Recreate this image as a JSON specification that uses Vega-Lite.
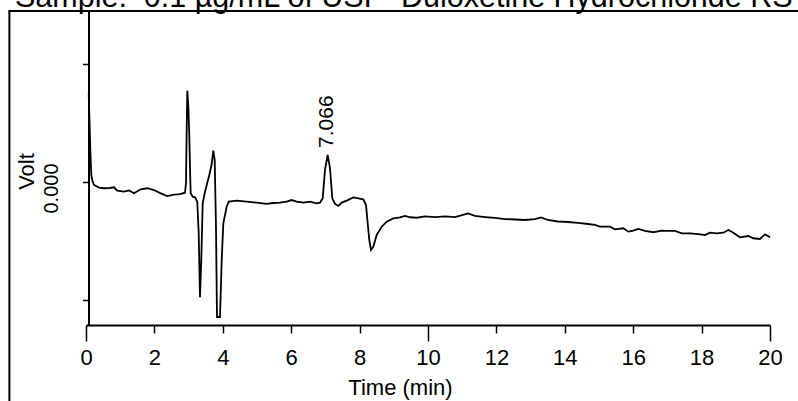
{
  "$schema": "https://vega.github.io/schema/vega-lite/v6.json",
  "width": 684,
  "height": 314,
  "autosize": {"type": "none"},
  "padding": {"left": 86, "top": 11, "right": 28, "bottom": 76},
  "background": "white",
  "config": {"view": {"stroke": null}, "font": "Liberation Sans"},
  "title": {
    "text": "Sample:\u00a0 0.1 µg/mL of USP\u00a0 Duloxetine Hydrochloride RS",
    "anchor": "start",
    "frame": "group",
    "font": "Liberation Sans",
    "fontSize": 30.5,
    "fontWeight": "normal",
    "color": "black",
    "baseline": "alphabetic",
    "offset": -27,
    "dx": -71
  },
  "layer": [
    {
      "data": {"values": [
        {"t": 0.079, "v": 0.0754}, {"t": 0.102, "v": 0.0525}, {"t": 0.126, "v": 0.0271}, {"t": 0.155, "v": 0.0059},
        {"t": 0.19, "v": 0.0008}, {"t": 0.234, "v": -0.0025}, {"t": 0.38, "v": -0.0048}, {"t": 0.526, "v": -0.0053},
        {"t": 0.702, "v": -0.0051}, {"t": 0.819, "v": -0.0045}, {"t": 0.915, "v": -0.0074}, {"t": 1.111, "v": -0.0082},
        {"t": 1.257, "v": -0.0072}, {"t": 1.404, "v": -0.0096}, {"t": 1.599, "v": -0.0062}, {"t": 1.792, "v": -0.0053},
        {"t": 1.988, "v": -0.0068}, {"t": 2.184, "v": -0.0096}, {"t": 2.377, "v": -0.0119}, {"t": 2.573, "v": -0.0108},
        {"t": 2.749, "v": -0.0102}, {"t": 2.895, "v": -0.0091}, {"t": 2.924, "v": -0.0008}, {"t": 2.944, "v": 0.0441},
        {"t": 2.962, "v": 0.0774}, {"t": 2.991, "v": 0.0653}, {"t": 3.02, "v": 0.0398}, {"t": 3.05, "v": 0.0017},
        {"t": 3.061, "v": -0.0096}, {"t": 3.12, "v": -0.0125}, {"t": 3.187, "v": -0.013}, {"t": 3.254, "v": -0.0167},
        {"t": 3.295, "v": -0.0435}, {"t": 3.333, "v": -0.0977}, {"t": 3.371, "v": -0.0661}, {"t": 3.412, "v": -0.0181},
        {"t": 3.48, "v": -0.0082}, {"t": 3.605, "v": 0.0059}, {"t": 3.67, "v": 0.0144}, {"t": 3.722, "v": 0.0265},
        {"t": 3.763, "v": 0.0186}, {"t": 3.801, "v": -0.0379}, {"t": 3.83, "v": -0.1144}, {"t": 3.918, "v": -0.1144},
        {"t": 3.968, "v": -0.0661}, {"t": 4.015, "v": -0.035}, {"t": 4.114, "v": -0.0209}, {"t": 4.173, "v": -0.0167},
        {"t": 4.406, "v": -0.0158}, {"t": 4.699, "v": -0.0167}, {"t": 4.991, "v": -0.0175}, {"t": 5.284, "v": -0.0186},
        {"t": 5.468, "v": -0.0178}, {"t": 5.673, "v": -0.0175}, {"t": 5.868, "v": -0.0167}, {"t": 6.015, "v": -0.0153},
        {"t": 6.161, "v": -0.0167}, {"t": 6.354, "v": -0.0175}, {"t": 6.55, "v": -0.0167}, {"t": 6.746, "v": -0.0181},
        {"t": 6.842, "v": -0.0175}, {"t": 6.921, "v": -0.0138}, {"t": 6.988, "v": 0.0102}, {"t": 7.066, "v": 0.0229},
        {"t": 7.135, "v": 0.0116}, {"t": 7.202, "v": -0.0138}, {"t": 7.281, "v": -0.0186}, {"t": 7.377, "v": -0.0203},
        {"t": 7.477, "v": -0.0175}, {"t": 7.623, "v": -0.0158}, {"t": 7.816, "v": -0.013}, {"t": 7.962, "v": -0.0138},
        {"t": 8.108, "v": -0.0147}, {"t": 8.187, "v": -0.0195}, {"t": 8.237, "v": -0.035}, {"t": 8.284, "v": -0.0492},
        {"t": 8.333, "v": -0.0576}, {"t": 8.401, "v": -0.0548}, {"t": 8.5, "v": -0.0449}, {"t": 8.646, "v": -0.0379},
        {"t": 8.792, "v": -0.0336}, {"t": 8.985, "v": -0.0308}, {"t": 9.181, "v": -0.0299}, {"t": 9.327, "v": -0.0288},
        {"t": 9.474, "v": -0.0299}, {"t": 9.67, "v": -0.0303}, {"t": 9.912, "v": -0.0292}, {"t": 10.205, "v": -0.0297},
        {"t": 10.497, "v": -0.0292}, {"t": 10.789, "v": -0.0297}, {"t": 10.994, "v": -0.028}, {"t": 11.17, "v": -0.0267},
        {"t": 11.374, "v": -0.0288}, {"t": 11.667, "v": -0.0297}, {"t": 11.959, "v": -0.0305}, {"t": 12.251, "v": -0.0314},
        {"t": 12.544, "v": -0.0318}, {"t": 12.836, "v": -0.0322}, {"t": 13.129, "v": -0.0314}, {"t": 13.304, "v": -0.0301},
        {"t": 13.509, "v": -0.0322}, {"t": 13.801, "v": -0.0335}, {"t": 14.094, "v": -0.0339}, {"t": 14.386, "v": -0.0347},
        {"t": 14.678, "v": -0.0356}, {"t": 14.883, "v": -0.0364}, {"t": 15.029, "v": -0.0379}, {"t": 15.322, "v": -0.0379},
        {"t": 15.468, "v": -0.0401}, {"t": 15.711, "v": -0.0392}, {"t": 15.857, "v": -0.0421}, {"t": 16.003, "v": -0.0413},
        {"t": 16.149, "v": -0.0398}, {"t": 16.345, "v": -0.0415}, {"t": 16.588, "v": -0.0426}, {"t": 16.833, "v": -0.0413},
        {"t": 17.026, "v": -0.0415}, {"t": 17.222, "v": -0.0415}, {"t": 17.418, "v": -0.0435}, {"t": 17.661, "v": -0.0435},
        {"t": 17.904, "v": -0.0441}, {"t": 18.099, "v": -0.0449}, {"t": 18.246, "v": -0.043}, {"t": 18.442, "v": -0.0435},
        {"t": 18.635, "v": -0.043}, {"t": 18.781, "v": -0.0407}, {"t": 18.927, "v": -0.043}, {"t": 19.123, "v": -0.0469},
        {"t": 19.366, "v": -0.0458}, {"t": 19.512, "v": -0.0477}, {"t": 19.708, "v": -0.0483}, {"t": 19.854, "v": -0.0443},
        {"t": 20.0, "v": -0.0469}
      ]},
      "mark": {"type": "line", "color": "black", "strokeWidth": 1.8},
      "encoding": {
        "x": {
          "field": "t", "type": "quantitative",
          "scale": {"domain": [0, 20], "nice": false, "zero": false},
          "axis": {
            "values": [0,1,2,3,4,5,6,7,8,9,10,11,12,13,14,15,16,17,18,19,20],
            "title": "Time (min)",
            "titleFont": "Liberation Sans", "titleFontSize": 22, "titleFontWeight": "normal", "titleColor": "black",
            "titleAlign": "center", "titleBaseline": "alphabetic", "titleAnchor": null,
            "titleX": 314, "titleY": 69,
            "labelFont": "Liberation Sans", "labelFontSize": 22, "labelColor": "black",
            "labelExpr": "datum.value % 2 === 0 ? datum.label : ''",
            "labelFlush": false, "labelOverlap": false,
            "labelPadding": {"condition": {"test": "datum.value % 10 === 0", "value": 6}, "value": 14},
            "domainColor": "black", "domainWidth": 2,
            "tickColor": "black", "tickWidth": 1.5,
            "tickSize": {"condition": {"test": "datum.value % 10 === 0", "value": 16}, "value": 8},
            "grid": false
          }
        },
        "y": {
          "field": "v", "type": "quantitative",
          "scale": {"domain": [-0.1212, 0.1449], "nice": false, "zero": false},
          "axis": {
            "values": [-0.1, 0, 0.1],
            "offset": -2.5,
            "title": "Volt",
            "titleFont": "Liberation Sans", "titleFontSize": 22, "titleFontWeight": "normal", "titleColor": "black",
            "titleAngle": 270, "titleAlign": "center", "titleBaseline": "alphabetic",
            "titleX": -55.5, "titleY": 160,
            "labelFont": "Liberation Sans", "labelFontSize": 20, "labelColor": "black",
            "labelExpr": "datum.value === 0 ? '0.000' : ''",
            "labelAngle": 270, "labelAlign": "center", "labelBaseline": "alphabetic",
            "labelPadding": 25, "labelOffset": 6,
            "domainColor": "black", "domainWidth": 2,
            "tickColor": "black", "tickWidth": 1.5, "tickSize": 6,
            "grid": false
          }
        }
      }
    },
    {
      "data": {"values": [{"t": 7.066, "v": 0.0229, "label": "7.066"}]},
      "mark": {"type": "text", "angle": 270, "align": "left", "baseline": "alphabetic", "dx": 7, "dy": 5.5, "fontSize": 21, "font": "Liberation Sans", "color": "black"},
      "encoding": {
        "x": {"field": "t", "type": "quantitative"},
        "y": {"field": "v", "type": "quantitative"},
        "text": {"field": "label"}
      }
    },
    {
      "data": {"values": [{}]},
      "mark": {"type": "rule", "color": "black", "strokeWidth": 2},
      "encoding": {
        "x": {"datum": -2.24},
        "y": {"datum": 0.1449},
        "y2": {"datum": -0.2}
      }
    },
    {
      "data": {"values": [{}]},
      "mark": {"type": "rule", "color": "black", "strokeWidth": 2},
      "encoding": {
        "x": {"datum": -2.27},
        "x2": {"datum": 21.5},
        "y": {"datum": 0.1449}
      }
    }
  ]
}
